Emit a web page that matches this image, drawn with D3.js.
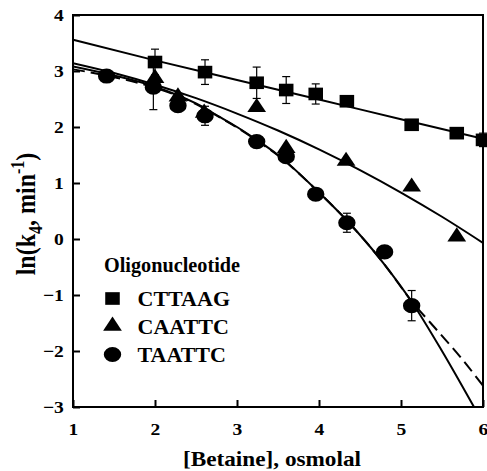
<!DOCTYPE html>
<html>
<head>
<meta charset="utf-8">
<script src="https://cdn.jsdelivr.net/npm/d3@7"></script>
<style>
  body { margin: 0; background: #fff; }
</style>
</head>
<body>
<div class="chart"></div>
<script>
var svgWidth = 487;
var svgHeight = 471;
var FONT = "'Liberation Serif', 'Times New Roman', serif";
var STRETCH = 1.15; // the original figure is a bit wider than tall

var margin = { top: 15, right: 4, bottom: 64, left: 73 };
var width = svgWidth - margin.left - margin.right;
var height = svgHeight - margin.top - margin.bottom;

// measured points, [betaine] osmolal vs ln(k4)
var squareX = [2.0, 2.61, 3.24, 3.6, 3.96, 4.34, 5.13, 5.68, 6.0];
var squareY = [3.16, 2.98, 2.79, 2.66, 2.59, 2.46, 2.04, 1.89, 1.77];
var squareErr = [0.23, 0.22, 0.28, 0.24, 0.18, 0.08, 0, 0, 0.12];

var triX = [2.0, 2.28, 2.6, 3.24, 3.6, 4.33, 5.13, 5.68];
var triY = [2.87, 2.54, 2.25, 2.35, 1.62, 1.39, 0.93, 0.04];

var circX = [1.41, 1.98, 2.28, 2.61, 3.24, 3.6, 3.96, 4.34, 4.8, 5.13];
var circY = [2.91, 2.71, 2.38, 2.2, 1.74, 1.47, 0.8, 0.29, -0.23, -1.19];
var circErr = [0, 0.4, 0, 0.17, 0, 0, 0.1, 0.17, 0, 0.27];

// fitted curves
var squareFitX = [1, 2, 3, 4, 5, 6];
var squareFitY = [3.56, 3.19, 2.84, 2.49, 2.14, 1.79];

var triFitX = [1, 1.5, 2, 2.5, 3, 3.5, 4, 4.5, 5, 5.5, 6];
var triFitY = [3.14, 2.964, 2.755, 2.515, 2.24, 1.937, 1.6, 1.231, 0.83, 0.397, -0.07];

var circFitX = [1, 1.5, 2, 2.5, 2.79, 3, 3.24, 3.5, 4, 4.34, 4.78, 5.13, 5.5, 5.89];
var circFitY = [3.08, 2.92, 2.72, 2.42, 2.18, 2.0, 1.77, 1.5, 0.83, 0.33, -0.42, -1.12, -2.0, -3.0];

var dashFitX = [1, 1.5, 2, 2.5, 2.79, 3, 3.24, 3.5, 4, 4.34, 4.78, 5.13, 5.44, 5.72, 6];
var dashFitY = [3.03, 2.89, 2.7, 2.41, 2.17, 1.99, 1.76, 1.49, 0.83, 0.33, -0.42, -1.11, -1.63, -2.1, -2.62];

var xTicks = [1, 2, 3, 4, 5, 6];
var yTicks = [-3, -2, -1, 0, 1, 2, 3, 4];

var legendTitle = "Oligonucleotide";
var legendNames = ["CTTAAG", "CAATTC", "TAATTC"];

var svg = d3.select(".chart")
  .append("svg")
  .attr("width", svgWidth)
  .attr("height", svgHeight);

var chartGroup = svg.append("g")
  .attr("transform", `translate(${margin.left}, ${margin.top})`);

var x = d3.scaleLinear().domain([1, 6]).range([0, width]);
var y = d3.scaleLinear().domain([-3, 4]).range([height, 0]);

function boldText(sel, size) {
  return sel.style("font-family", FONT).style("font-weight", "bold").style("font-size", size + "px");
}

// frame
chartGroup.append("rect")
  .attr("width", width)
  .attr("height", height)
  .attr("fill", "none")
  .attr("stroke", "#000")
  .attr("stroke-width", 2);

// axes with inward ticks
var bottomAxis = d3.axisBottom(x).tickValues(xTicks).tickFormat(d3.format("d"))
  .tickSizeInner(-7).tickSizeOuter(0).tickPadding(16);
var leftAxis = d3.axisLeft(y).tickValues(yTicks).tickFormat(d3.format("d"))
  .tickSizeInner(-7).tickSizeOuter(0).tickPadding(8);

var xAxis = chartGroup.append("g")
  .attr("transform", `translate(0, ${height})`)
  .call(bottomAxis);
var yAxis = chartGroup.append("g").call(leftAxis);

[xAxis, yAxis].forEach(function(ax) {
  ax.select(".domain").remove();
  ax.attr("font-family", null).attr("font-size", null);
  ax.selectAll("line").attr("stroke-width", 2);
  boldText(ax.selectAll("text"), 17).attr("transform", `scale(${STRETCH}, 1)`);
});

// fitted lines
var line = d3.line()
  .x(d => x(d[0]))
  .y(d => y(d[1]))
  .curve(d3.curveMonotoneX);

chartGroup.append("clipPath").attr("id", "clip")
  .append("rect").attr("width", width).attr("height", height);

var fits = chartGroup.append("g").attr("clip-path", "url(#clip)")
  .attr("fill", "none").attr("stroke", "#000").attr("stroke-width", 2);

fits.append("path").datum(d3.zip(squareFitX, squareFitY)).attr("d", line);
fits.append("path").datum(d3.zip(triFitX, triFitY)).attr("d", line);
fits.append("path").datum(d3.zip(circFitX, circFitY)).attr("d", line);
fits.append("path").datum(d3.zip(dashFitX, dashFitY)).attr("d", line)
  .attr("stroke-dasharray", "12,6");

// error bars
function errorBars(xs, ys, es) {
  var g = chartGroup.append("g").attr("stroke", "#000").attr("stroke-width", 1.2);
  xs.forEach(function(xv, i) {
    if (!es[i]) return;
    var cx = x(xv), y1 = y(ys[i] + es[i]), y2 = y(ys[i] - es[i]);
    g.append("line").attr("x1", cx).attr("x2", cx).attr("y1", y1).attr("y2", y2);
    g.append("line").attr("x1", cx - 4).attr("x2", cx + 4).attr("y1", y1).attr("y2", y1);
    g.append("line").attr("x1", cx - 4).attr("x2", cx + 4).attr("y1", y2).attr("y2", y2);
  });
}
errorBars(squareX, squareY, squareErr);
errorBars(circX, circY, circErr);

// markers (slightly wider than tall, like the original)
var squareSym = d3.symbol().type(d3.symbolSquare).size(160);
var triSym = d3.symbol().type(d3.symbolTriangle).size(115);
var circSym = d3.symbol().type(d3.symbolCircle).size(180);

function markers(xs, ys, sym) {
  chartGroup.append("g").selectAll("path")
    .data(d3.zip(xs, ys)).enter().append("path")
    .attr("d", sym)
    .attr("transform", d => `translate(${x(d[0])}, ${y(d[1])}) scale(${STRETCH}, 1)`);
}
markers(circX, circY, circSym);
markers(triX, triY, triSym);
markers(squareX, squareY, squareSym);

// legend
boldText(svg.append("text").attr("x", 104).attr("y", 272), 21)
  .attr("textLength", 136).attr("lengthAdjust", "spacingAndGlyphs")
  .text(legendTitle);
var legendSyms = [squareSym, triSym, circSym];
var legendRowY = [306, 333.5, 362];
legendNames.forEach(function(name, i) {
  svg.append("path")
    .attr("d", legendSyms[i])
    .attr("transform", `translate(112.5, ${legendRowY[i] - 7.5}) scale(${STRETCH}, 1)`);
  boldText(svg.append("text").attr("x", 137.5).attr("y", legendRowY[i]), 22).text(name);
});

// axis titles
boldText(svg.append("text")
  .attr("x", 183)
  .attr("y", 466), 21)
  .attr("textLength", 178).attr("lengthAdjust", "spacingAndGlyphs")
  .text("[Betaine], osmolal");

var yLabel = boldText(svg.append("text")
  .attr("transform", `translate(35, 214) scale(${STRETCH}, 1) rotate(-90)`)
  .attr("text-anchor", "middle"), 24);
yLabel.append("tspan").text("ln(k");
yLabel.append("tspan").attr("dy", 6).style("font-size", "16px").text("4");
yLabel.append("tspan").attr("dy", -6).text(", min");
yLabel.append("tspan").attr("dy", -10).style("font-size", "16px").text("-1");
yLabel.append("tspan").attr("dy", 10).text(")");
</script>
</body>
</html>
